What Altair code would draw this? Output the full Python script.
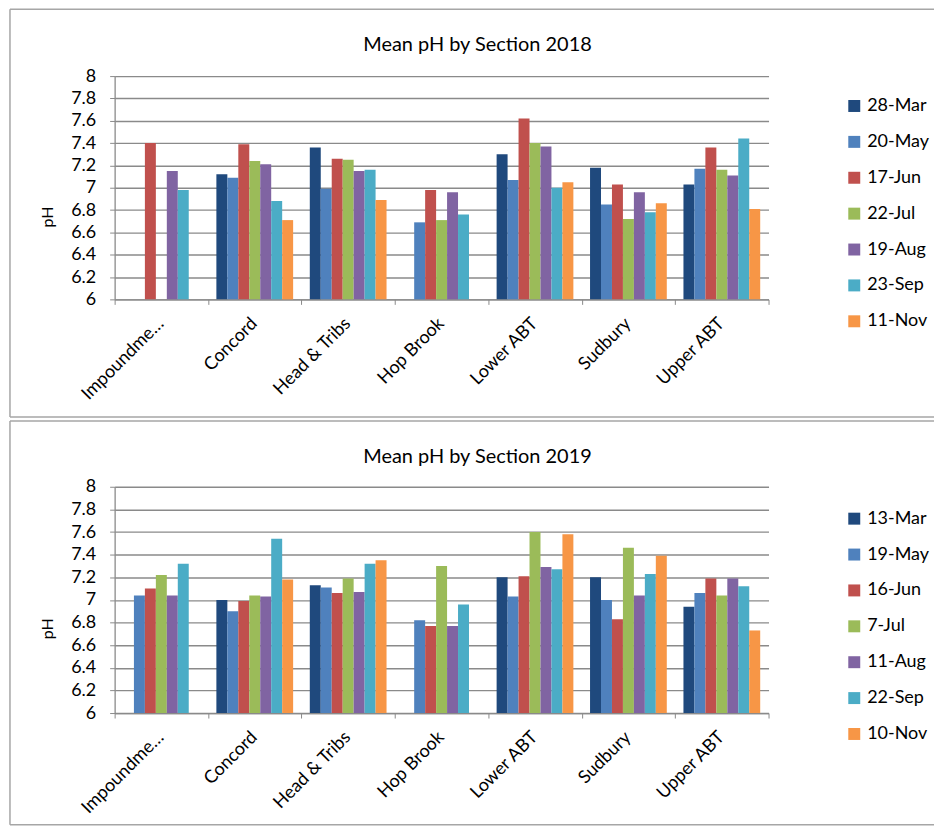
import altair as alt
import pandas as pd

# River sections along the x axis
sections = ["Impoundments", "Concord", "Head & Tribs", "Hop Brook",
            "Lower ABT", "Sudbury", "Upper ABT"]

# 2018 sampling dates and mean pH per section (None = not sampled)
dates_2018 = ["28-Mar", "20-May", "17-Jun", "22-Jul", "19-Aug", "23-Sep", "11-Nov"]
ph_2018_mar28 = [None, 7.12, 7.36, None, 7.30, 7.18, 7.03]
ph_2018_may20 = [None, 7.09, 6.99, 6.69, 7.07, 6.85, 7.17]
ph_2018_jun17 = [7.40, 7.39, 7.26, 6.98, 7.62, 7.03, 7.36]
ph_2018_jul22 = [None, 7.24, 7.25, 6.71, 7.40, 6.72, 7.16]
ph_2018_aug19 = [7.15, 7.21, 7.15, 6.96, 7.37, 6.96, 7.11]
ph_2018_sep23 = [6.98, 6.88, 7.16, 6.76, 7.00, 6.78, 7.44]
ph_2018_nov11 = [None, 6.71, 6.89, None, 7.05, 6.86, 6.81]

# 2019 sampling dates and mean pH per section
dates_2019 = ["13-Mar", "19-May", "16-Jun", "7-Jul", "11-Aug", "22-Sep", "10-Nov"]
ph_2019_mar13 = [None, 7.00, 7.13, None, 7.20, 7.20, 6.94]
ph_2019_may19 = [7.04, 6.90, 7.11, 6.82, 7.03, 7.00, 7.06]
ph_2019_jun16 = [7.10, 6.99, 7.06, 6.77, 7.21, 6.83, 7.19]
ph_2019_jul07 = [7.22, 7.04, 7.19, 7.30, 7.60, 7.46, 7.04]
ph_2019_aug11 = [7.04, 7.03, 7.07, 6.77, 7.29, 7.04, 7.19]
ph_2019_sep22 = [7.32, 7.54, 7.32, 6.96, 7.27, 7.23, 7.12]
ph_2019_nov10 = [None, 7.18, 7.35, None, 7.58, 7.39, 6.73]

series_2018 = [ph_2018_mar28, ph_2018_may20, ph_2018_jun17, ph_2018_jul22,
               ph_2018_aug19, ph_2018_sep23, ph_2018_nov11]
series_2019 = [ph_2019_mar13, ph_2019_may19, ph_2019_jun16, ph_2019_jul07,
               ph_2019_aug11, ph_2019_sep22, ph_2019_nov10]

y_ticks = [6, 6.2, 6.4, 6.6, 6.8, 7, 7.2, 7.4, 7.6, 7.8, 8]

palette = ["#1F497D", "#4F81BD", "#C0504D", "#9BBB59",
           "#8064A2", "#4BACC6", "#F79646"]

FONT = "Lato"
GRID = "#8a8a8a"
FRAME = "#a6a6a6"
PLOT_W = 656


def long_table(dates, series):
    rows = []
    for date, values in zip(dates, series):
        for sec, v in zip(sections, values):
            if v is not None:
                rows.append({"Section": sec, "Date": date, "pH": v})
    return pd.DataFrame(rows)


def decorations(top, bottom, title, title_y):
    # chart-area border (top, left, bottom edges; right edge runs off the page)
    # and the centred chart title
    one = pd.DataFrame({"k": [0]})
    base = alt.Chart(one).mark_rule(color=FRAME, strokeWidth=1.5)
    heading = alt.Chart(one).mark_text(
        fontSize=20, font=FONT, color="black", align="center", baseline="middle"
    ).encode(x=alt.value(364), y=alt.value(title_y), text=alt.value(title))
    return alt.layer(
        base.encode(x=alt.value(-105), x2=alt.value(822), y=alt.value(top)),
        base.encode(x=alt.value(-105), y=alt.value(top), y2=alt.value(bottom)),
        base.encode(x=alt.value(-105), x2=alt.value(822), y=alt.value(bottom)),
        heading,
    )


def panel(year, dates, series, height, top, bottom, head_y, axis_title_y, legend_y):
    df = long_table(dates, series)
    bars = alt.Chart(df).mark_bar().encode(
        x=alt.X(
            "Section:N",
            sort=sections,
            scale=alt.Scale(domain=sections, paddingInner=0, paddingOuter=0),
            axis=alt.Axis(
                title=None,
                labelAngle=-45,
                labelAlign="right",
                labelBaseline="top",
                labelFontSize=18,
                labelPadding=10,
                labelOffset=-7,
                labelLimit=112,
                tickBand="extent",
                tickSize=5,
                tickColor=GRID,
                domainColor=GRID,
                domainWidth=1.3,
                grid=False,
            ),
        ),
        xOffset=alt.XOffset(
            "Date:N",
            sort=dates,
            scale=alt.Scale(domain=dates, paddingInner=0, paddingOuter=0.76),
        ),
        y=alt.Y(
            "pH:Q",
            scale=alt.Scale(domain=[6, 8], nice=False, zero=False),
            axis=alt.Axis(
                title="pH",
                values=y_ticks,
                format=".1~f",
                labelFontSize=18,
                labelPadding=14,
                tickSize=5,
                tickColor=GRID,
                domainColor=GRID,
                domainWidth=1.3,
                gridColor=GRID,
                gridWidth=1.4,
                titleFontSize=16,
                titleFontWeight="normal",
                titleAngle=-90,
                titleX=-67,
                titleY=axis_title_y,
                titleBaseline="middle",
                titleAlign="center",
            ),
        ),
        y2=alt.datum(6),
        color=alt.Color(
            "Date:N",
            sort=dates,
            scale=alt.Scale(domain=dates, range=palette),
            legend=alt.Legend(
                title=None,
                orient="none",
                legendX=733,
                legendY=legend_y,
                symbolType="square",
                symbolSize=144,
                symbolStrokeWidth=0,
                labelFontSize=18,
                labelOffset=4,
                rowPadding=18,
                padding=0,
            ),
        ),
    )
    return alt.layer(
        decorations(top, bottom, f"Mean pH by Section {year}", head_y), bars
    ).properties(width=PLOT_W, height=height)


top_panel = panel(2018, dates_2018, series_2018, 224, -67, 342, -31, 141, 21)
bottom_panel = panel(2019, dates_2019, series_2019, 227, -66, 339, -30, 142, 23)

chart = (
    alt.vconcat(top_panel, bottom_panel, spacing=0)
    .resolve_scale(color="independent", xOffset="independent")
    .properties(padding={"left": 8, "top": 6, "right": 0, "bottom": 0},
                background="white")
    .configure(font=FONT)
    .configure_view(stroke="transparent")
    .configure_axis(labelColor="black", titleColor="black")
    .configure_legend(labelColor="black")
)

chart.save("out.html", embed_options={"renderer": "svg", "actions": False})
